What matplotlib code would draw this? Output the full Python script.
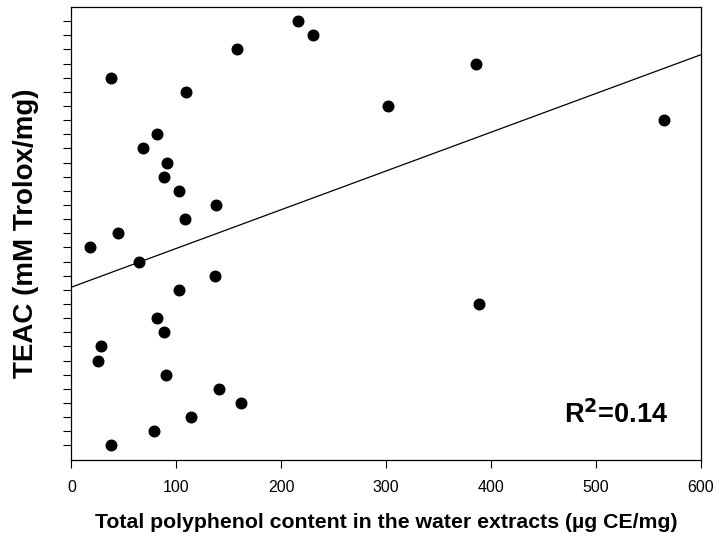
import numpy as np
import matplotlib.pyplot as plt

plt.rcParams['font.family'] = ['Liberation Sans', 'DejaVu Sans']

# ------------------------ Data ------------------------
polyphenol = [37.4, 78.9, 114.2, 161.9, 140.9, 90.1, 25.3, 28.4, 88.5, 81.2,
              388.4, 102.5, 136.8, 64.1, 17.9, 44.6, 108.2, 137.7, 102.2, 87.9,
              91.3, 68.2, 81.8, 565.1, 302.0, 109.1, 37.7, 385.6, 157.8, 230.5,
              215.6]
teac = list(range(1, 32))

# regression line end points (x, y)
fit_x = [0, 600]
fit_y = [12.19, 28.63]
r2_text = r'R$^\mathbf{2}$=0.14'

# ------------------------ Figure ------------------------
fig = plt.figure(figsize=(7.19, 5.44), dpi=100)
ax = fig.add_axes([0.0994, 0.1553, 0.8756, 0.8318])

ax.scatter(polyphenol, teac, s=58, color='black', zorder=3)
ax.plot(fit_x, fit_y, color='black', linewidth=0.9)

ax.set_xlim(0, 600)
ax.set_ylim(0, 32)
ax.set_xticks(np.arange(0, 601, 100))
ax.set_yticks(np.arange(1, 32, 1))
ax.set_yticklabels([])

ax.tick_params(axis='both', direction='out', length=6, width=0.8, labelsize=11.5)
ax.tick_params(axis='x', pad=9)
for s in ax.spines.values():
    s.set_linewidth(0.9)

ax.set_xlabel('Total polyphenol content in the water extracts (\u00b5g CE/mg)',
              fontsize=15.3, fontweight='bold', labelpad=13)
ax.set_ylabel('TEAC (mM Trolox/mg)', fontsize=20, fontweight='bold', labelpad=14)

ax.text(0.948, 0.08, r2_text, transform=ax.transAxes, ha='right', va='baseline',
        fontsize=19.5, fontweight='bold')

fig.savefig('out.png', dpi=100)
